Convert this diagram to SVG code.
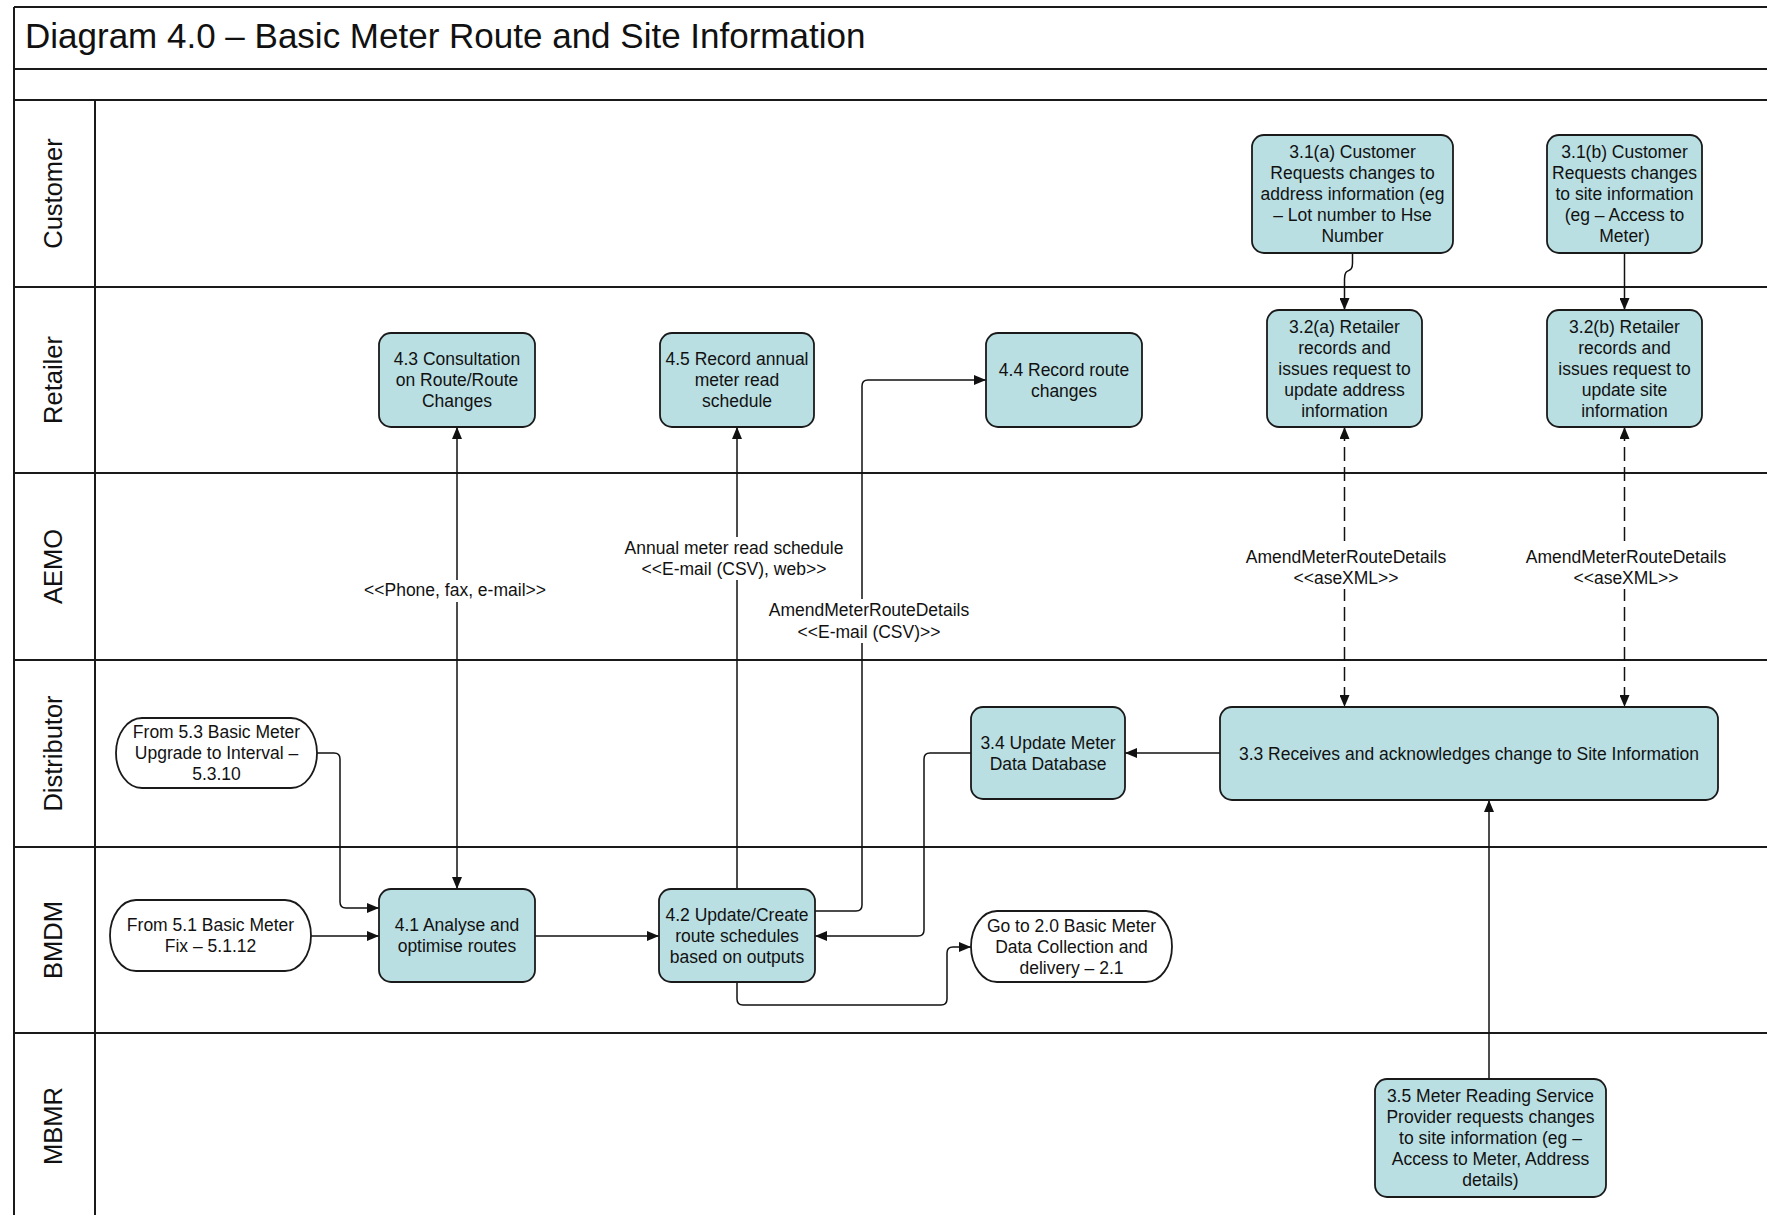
<svg xmlns="http://www.w3.org/2000/svg" width="1767" height="1215" viewBox="0 0 1767 1215">
<defs>
<style>
.lane{stroke:#1a1a1a;stroke-width:2;fill:none}
.box{fill:#b9dfe3;stroke:#1a1a1a;stroke-width:1.8}
.term{fill:#ffffff;stroke:#1a1a1a;stroke-width:1.8}
.t{font-family:"Liberation Sans",Arial,sans-serif;font-size:17.5px;fill:#111;text-anchor:middle}
.ln{font-family:"Liberation Sans",Arial,sans-serif;font-size:25.5px;fill:#111;text-anchor:middle}
.c{stroke:#111;stroke-width:1.5;fill:none}
.d{stroke:#111;stroke-width:1.5;fill:none;stroke-dasharray:14 6}
.bg{fill:#ffffff;stroke:none}
</style>
<marker id="ah" markerUnits="userSpaceOnUse" viewBox="0 0 12 10" markerWidth="12" markerHeight="10" refX="12" refY="5" orient="auto-start-reverse">
<path d="M0,0 L12,5 L0,10 Z" fill="#111"/>
</marker>
</defs>
<rect x="0" y="0" width="1767" height="1215" fill="#ffffff"/>
<g id="frame">
<line class="lane" x1="14" y1="7" x2="1767" y2="7"/>
<line class="lane" x1="14" y1="69" x2="1767" y2="69"/>
<line class="lane" x1="14" y1="100" x2="1767" y2="100"/>
<line class="lane" x1="14" y1="287" x2="1767" y2="287"/>
<line class="lane" x1="14" y1="473" x2="1767" y2="473"/>
<line class="lane" x1="14" y1="660" x2="1767" y2="660"/>
<line class="lane" x1="14" y1="847" x2="1767" y2="847"/>
<line class="lane" x1="14" y1="1033" x2="1767" y2="1033"/>
<line class="lane" x1="14" y1="7" x2="14" y2="1215"/>
<line class="lane" x1="95" y1="100" x2="95" y2="1215"/>
<text x="25" y="48" font-family="Liberation Sans, Arial, sans-serif" font-size="35" fill="#111">Diagram 4.0 – Basic Meter Route and Site Information</text>
<text class="ln" transform="translate(62,193.5) rotate(-90)">Customer</text>
<text class="ln" transform="translate(62,380) rotate(-90)">Retailer</text>
<text class="ln" transform="translate(62,566.5) rotate(-90)">AEMO</text>
<text class="ln" transform="translate(62,753.5) rotate(-90)">Distributor</text>
<text class="ln" transform="translate(62,940) rotate(-90)">BMDM</text>
<text class="ln" transform="translate(62,1126) rotate(-90)">MBMR</text>
</g>
<g id="connectors">
<path class="c" d="M457,427 V889" marker-start="url(#ah)" marker-end="url(#ah)"/>
<rect class="bg" x="450" y="580" width="14" height="22"/>
<text class="t" x="455" y="596">&lt;&lt;Phone, fax, e-mail&gt;&gt;</text>
<path class="c" d="M737,889 V427" marker-end="url(#ah)"/>
<rect class="bg" x="730" y="537" width="14" height="43"/>
<text class="t" x="734" y="554">Annual meter read schedule</text>
<text class="t" x="734" y="575">&lt;&lt;E-mail (CSV), web&gt;&gt;</text>
<path class="c" d="M815,911 H856 Q862,911 862,905 V386 Q862,380 868,380 H986" marker-end="url(#ah)"/>
<rect class="bg" x="855" y="599" width="14" height="44"/>
<text class="t" x="869" y="616">AmendMeterRouteDetails</text>
<text class="t" x="869" y="637.5">&lt;&lt;E-mail (CSV)&gt;&gt;</text>
<path class="c" d="M971,753 H930 Q924,753 924,759 V930 Q924,936 918,936 H815" marker-end="url(#ah)"/>
<path class="c" d="M737,982 V999 Q737,1005 743,1005 H941 Q947,1005 947,999 V953 Q947,947 953,947 H971" marker-end="url(#ah)"/>
<path class="c" d="M317,753 H334 Q340,753 340,759 V902 Q340,908 346,908 H379" marker-end="url(#ah)"/>
<path class="c" d="M311,936 H379" marker-end="url(#ah)"/>
<path class="c" d="M535,936 H659" marker-end="url(#ah)"/>
<path class="c" d="M1220,753 H1125" marker-end="url(#ah)"/>
<path class="c" d="M1352.5,253 V263 C1352.5,275 1344.5,266 1344.5,279 V310" marker-end="url(#ah)"/>
<path class="c" d="M1624.5,253 V310" marker-end="url(#ah)"/>
<path class="d" d="M1344.5,427 V707" marker-start="url(#ah)" marker-end="url(#ah)"/>
<rect class="bg" x="1337" y="546" width="15" height="43"/>
<text class="t" x="1346" y="563">AmendMeterRouteDetails</text>
<text class="t" x="1346" y="584">&lt;&lt;aseXML&gt;&gt;</text>
<path class="d" d="M1624.5,427 V707" marker-start="url(#ah)" marker-end="url(#ah)"/>
<rect class="bg" x="1617" y="546" width="15" height="43"/>
<text class="t" x="1626" y="563">AmendMeterRouteDetails</text>
<text class="t" x="1626" y="584">&lt;&lt;aseXML&gt;&gt;</text>
<path class="c" d="M1489,1079 V800" marker-end="url(#ah)"/>
</g>
<g id="n31a"><rect class="box" x="1252" y="135" width="201" height="118" rx="12"/>
<text class="t" x="1352.5" y="158">3.1(a) Customer</text><text class="t" x="1352.5" y="179">Requests changes to</text><text class="t" x="1352.5" y="200">address information (eg</text><text class="t" x="1352.5" y="221">– Lot number to Hse</text><text class="t" x="1352.5" y="242">Number</text></g>
<g id="n31b"><rect class="box" x="1547" y="135" width="155" height="118" rx="12"/>
<text class="t" x="1624.5" y="158">3.1(b) Customer</text><text class="t" x="1624.5" y="179">Requests changes</text><text class="t" x="1624.5" y="200">to site information</text><text class="t" x="1624.5" y="221">(eg – Access to</text><text class="t" x="1624.5" y="242">Meter)</text></g>
<g id="n32a"><rect class="box" x="1267" y="310" width="155" height="117" rx="12"/>
<text class="t" x="1344.5" y="332.5">3.2(a) Retailer</text><text class="t" x="1344.5" y="353.5">records and</text><text class="t" x="1344.5" y="374.5">issues request to</text><text class="t" x="1344.5" y="395.5">update address</text><text class="t" x="1344.5" y="416.5">information</text></g>
<g id="n32b"><rect class="box" x="1547" y="310" width="155" height="117" rx="12"/>
<text class="t" x="1624.5" y="332.5">3.2(b) Retailer</text><text class="t" x="1624.5" y="353.5">records and</text><text class="t" x="1624.5" y="374.5">issues request to</text><text class="t" x="1624.5" y="395.5">update site</text><text class="t" x="1624.5" y="416.5">information</text></g>
<g id="n43"><rect class="box" x="379" y="333" width="156" height="94" rx="12"/>
<text class="t" x="457" y="365">4.3 Consultation</text><text class="t" x="457" y="386">on Route/Route</text><text class="t" x="457" y="407">Changes</text></g>
<g id="n45"><rect class="box" x="660" y="333" width="154" height="94" rx="12"/>
<text class="t" x="737" y="365">4.5 Record annual</text><text class="t" x="737" y="386">meter read</text><text class="t" x="737" y="407">schedule</text></g>
<g id="n44"><rect class="box" x="986" y="333" width="156" height="94" rx="12"/>
<text class="t" x="1064" y="375.5">4.4 Record route</text><text class="t" x="1064" y="396.5">changes</text></g>
<g id="n34"><rect class="box" x="971" y="707" width="154" height="92" rx="12"/>
<text class="t" x="1048" y="748.5">3.4 Update Meter</text><text class="t" x="1048" y="769.5">Data Database</text></g>
<g id="n33"><rect class="box" x="1220" y="707" width="498" height="93" rx="12"/>
<text class="t" x="1469" y="759.5">3.3 Receives and acknowledges change to Site Information</text></g>
<g id="from53"><rect class="term" x="116" y="718" width="201" height="70" rx="26" ry="35"/>
<text class="t" x="216.5" y="738">From 5.3 Basic Meter</text><text class="t" x="216.5" y="759">Upgrade to Interval –</text><text class="t" x="216.5" y="780">5.3.10</text></g>
<g id="from51"><rect class="term" x="110" y="900" width="201" height="71" rx="26" ry="35.5"/>
<text class="t" x="210.5" y="931">From 5.1 Basic Meter</text><text class="t" x="210.5" y="952">Fix – 5.1.12</text></g>
<g id="n41"><rect class="box" x="379" y="889" width="156" height="93" rx="12"/>
<text class="t" x="457" y="931">4.1 Analyse and</text><text class="t" x="457" y="952">optimise routes</text></g>
<g id="n42"><rect class="box" x="659" y="889" width="156" height="93" rx="12"/>
<text class="t" x="737" y="920.5">4.2 Update/Create</text><text class="t" x="737" y="941.5">route schedules</text><text class="t" x="737" y="962.5">based on outputs</text></g>
<g id="goto20"><rect class="term" x="971" y="911" width="201" height="71" rx="26" ry="35.5"/>
<text class="t" x="1071.5" y="931.5">Go to 2.0 Basic Meter</text><text class="t" x="1071.5" y="952.5">Data Collection and</text><text class="t" x="1071.5" y="973.5">delivery – 2.1</text></g>
<g id="n35"><rect class="box" x="1375" y="1079" width="231" height="118" rx="12"/>
<text class="t" x="1490.5" y="1102">3.5 Meter Reading Service</text><text class="t" x="1490.5" y="1123">Provider requests changes</text><text class="t" x="1490.5" y="1144">to site information (eg –</text><text class="t" x="1490.5" y="1165">Access to Meter, Address</text><text class="t" x="1490.5" y="1186">details)</text></g>
</svg>
